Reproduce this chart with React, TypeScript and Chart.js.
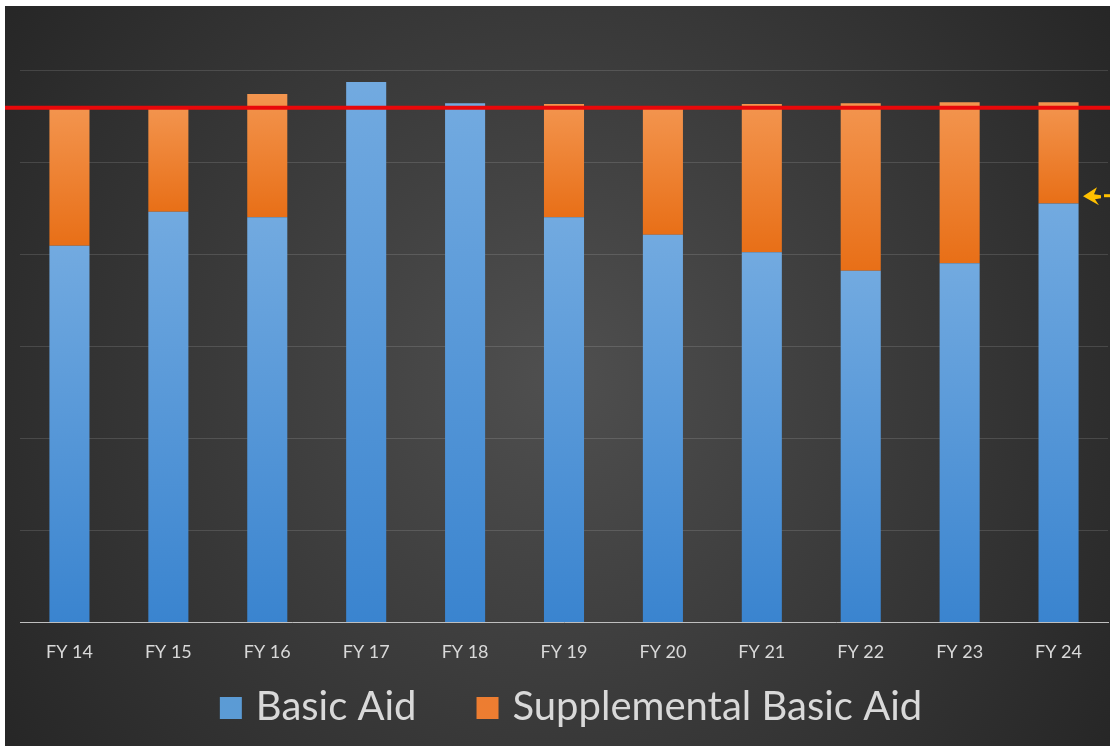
import React, { useEffect, useRef } from "react";
import { Chart, registerables } from "chart.js";

Chart.register(...registerables);

const categories = ["FY 14", "FY 15", "FY 16", "FY 17", "FY 18", "FY 19", "FY 20", "FY 21", "FY 22", "FY 23", "FY 24"];
const basicAid = [4.09, 4.46, 4.4, 5.87, 5.64, 4.4, 4.21, 4.02, 3.82, 3.9, 4.55];
const supplementalBasicAid = [1.52, 1.15, 1.34, 0, 0, 1.23, 1.4, 1.61, 1.82, 1.75, 1.1];
const seriesNames = ["Basic Aid", "Supplemental Basic Aid"];
const thresholdLevel = 5.6;
const yMax = 6;
const yStep = 1;
const arrowLevel = 4.64;

const BLUE_SOLID = "#5b9bd5";
const ORANGE_SOLID = "#ed7d31";

function segGradient(ctx: any, light: string, dark: string, solid: string, isTop: boolean) {
  const chart = ctx.chart;
  if (ctx.type !== "data" || !chart.chartArea || !chart.scales?.y) return solid;
  const i = ctx.dataIndex;
  const y = chart.scales.y;
  const lo = isTop ? basicAid[i] : 0;
  const hi = isTop ? basicAid[i] + supplementalBasicAid[i] : basicAid[i];
  const yTop = y.getPixelForValue(hi);
  const yBot = y.getPixelForValue(lo);
  if (!isFinite(yTop) || !isFinite(yBot) || Math.abs(yBot - yTop) < 1) return solid;
  const g = chart.ctx.createLinearGradient(0, yTop, 0, yBot);
  g.addColorStop(0, light);
  g.addColorStop(1, dark);
  return g;
}

const backgroundPlugin = {
  id: "bgPlugin",
  beforeDraw(chart: any) {
    const { ctx, width, height } = chart;
    ctx.save();
    const g = ctx.createRadialGradient(width * 0.5, 370, 20, width * 0.5, 370, 720);
    g.addColorStop(0, "#4e4e4e");
    g.addColorStop(1, "#232323");
    ctx.fillStyle = g;
    ctx.fillRect(0, 0, width, height);
    ctx.restore();
  },
};

const thresholdPlugin = {
  id: "thresholdPlugin",
  afterDatasetsDraw(chart: any) {
    const { ctx, width } = chart;
    const y = chart.scales.y.getPixelForValue(thresholdLevel);
    ctx.save();
    ctx.strokeStyle = "#e8080a";
    ctx.lineWidth = 4;
    ctx.beginPath();
    ctx.moveTo(0, y + 1);
    ctx.lineTo(width, y + 1);
    ctx.stroke();

    // yellow arrow pointing left at right edge
    const ay = chart.scales.y.getPixelForValue(arrowLevel);
    const ax = width - 27;
    ctx.fillStyle = "#ffc000";
    ctx.beginPath();
    ctx.moveTo(ax, ay + 1);
    ctx.lineTo(ax + 14, ay - 8);
    ctx.lineTo(ax + 11, ay - 1);
    ctx.lineTo(ax + 18, ay + 0);
    ctx.lineTo(ax + 18, ay + 3);
    ctx.lineTo(ax + 12, ay + 4);
    ctx.lineTo(ax + 16, ay + 10);
    ctx.closePath();
    ctx.fill();
    ctx.fillRect(ax + 21, ay - 1, 6, 3);
    ctx.restore();
  },
};

const legendPlugin = {
  id: "customLegend",
  afterDraw(chart: any) {
    const { ctx } = chart;
    const colors = [BLUE_SOLID, ORANGE_SOLID];
    const box = 22;
    const gapBoxText = 14;
    const gapItems = 60;
    ctx.save();
    ctx.font = "40px Lato";
    ctx.textBaseline = "middle";
    const widths = seriesNames.map((n) => ctx.measureText(n).width);
    const total = widths.reduce((a, w) => a + box + gapBoxText + w, 0) + gapItems * (seriesNames.length - 1);
    const cy = 701;
    let x = 566 - total / 2;
    seriesNames.forEach((n, i) => {
      ctx.fillStyle = colors[i];
      ctx.fillRect(x, cy - box / 2 + 1, box, box);
      x += box + gapBoxText;
      ctx.fillStyle = "#d9d9d9";
      ctx.fillText(n, x, cy);
      x += widths[i] + gapItems;
    });
    ctx.restore();
  },
};

export default function App() {
  const canvasRef = useRef<HTMLCanvasElement | null>(null);

  useEffect(() => {
    if (!canvasRef.current) return;
    const chart = new Chart(canvasRef.current, {
      type: "bar",
      data: {
        labels: categories,
        datasets: [
          {
            label: seriesNames[0],
            data: basicAid,
            backgroundColor: (c: any) => segGradient(c, "#72aae0", "#3a84cf", BLUE_SOLID, false),
            borderWidth: 0,
            barPercentage: 0.405,
            categoryPercentage: 1,
          },
          {
            label: seriesNames[1],
            data: supplementalBasicAid,
            backgroundColor: (c: any) => segGradient(c, "#f3954f", "#e86f17", ORANGE_SOLID, true),
            borderWidth: 0,
            barPercentage: 0.405,
            categoryPercentage: 1,
          },
        ],
      },
      options: {
        animation: false,
        responsive: true,
        maintainAspectRatio: false,
        layout: { padding: { left: 15, right: 2, top: 64, bottom: 64 } },
        plugins: {
          tooltip: { enabled: false },
          legend: { display: false },
        },
        scales: {
          x: {
            stacked: true,
            grid: { display: false, drawTicks: false },
            border: { display: true, color: "#bfbfbf", width: 1 },
            ticks: { color: "#d9d9d9", font: { family: "Lato", size: 18 }, padding: 19, maxRotation: 0 },
          },
          y: {
            stacked: true,
            min: 0,
            max: yMax,
            ticks: { display: false, stepSize: yStep },
            grid: { color: "rgba(255,255,255,0.13)", drawTicks: false, lineWidth: 1 },
            border: { display: false },
            afterFit: (s: any) => {
              s.width = 0;
            },
          },
        },
      },
      plugins: [backgroundPlugin, thresholdPlugin, legendPlugin],
    });
    return () => chart.destroy();
  }, []);

  return (
    <div style={{ position: "fixed", left: 5, top: 6, width: 1105, height: 740, overflow: "hidden" }}>
      <canvas ref={canvasRef} />
    </div>
  );
}
